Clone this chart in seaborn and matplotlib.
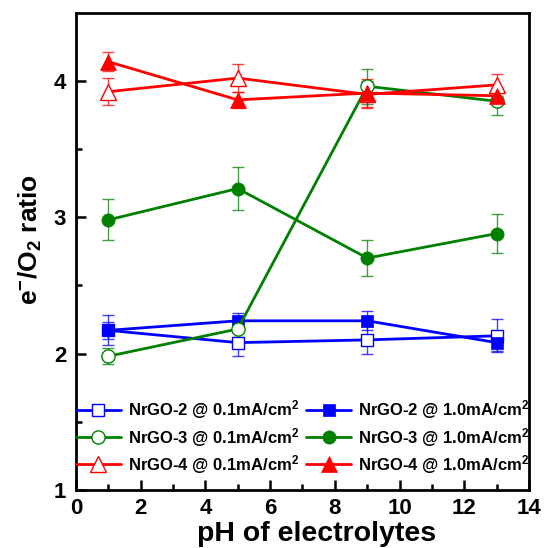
import numpy as np
import pandas as pd
import matplotlib
matplotlib.use('Agg')
import matplotlib.pyplot as plt
import seaborn as sns

sns.set_style('ticks')
plt.rcParams['font.family'] = ['Liberation Sans', 'DejaVu Sans']
plt.rcParams['font.weight'] = 'bold'
plt.rcParams['mathtext.fontset'] = 'custom'
plt.rcParams['mathtext.rm'] = 'Liberation Sans:bold'
plt.rcParams['mathtext.it'] = 'Liberation Sans:bold'
plt.rcParams['mathtext.bf'] = 'Liberation Sans:bold'
plt.rcParams['mathtext.default'] = 'rm'
for k in ['text.color', 'axes.labelcolor', 'xtick.color', 'ytick.color', 'axes.edgecolor']:
    plt.rcParams[k] = 'black'

ph = [1, 5, 9, 13]

# NrGO-2
g2_low = [2.17, 2.08, 2.10, 2.13]
g2_low_err = [0.06, 0.10, 0.10, 0.12]
g2_high = [2.17, 2.24, 2.24, 2.08]
g2_high_err = [0.11, 0.06, 0.07, 0.06]
# NrGO-3
g3_low = [1.98, 2.18, 3.96, 3.85]
g3_low_err = [0.06, 0.06, 0.13, 0.10]
g3_high = [2.98, 3.21, 2.70, 2.88]
g3_high_err = [0.15, 0.16, 0.13, 0.14]
# NrGO-4
g4_low = [3.92, 4.02, 3.90, 3.97]
g4_low_err = [0.10, 0.10, 0.10, 0.08]
g4_high = [4.14, 3.86, 3.91, 3.89]
g4_high_err = [0.07, 0.06, 0.10, 0.05]

labels = ['NrGO-2 @ 0.1mA/cm$^2$', 'NrGO-2 @ 1.0mA/cm$^2$',
          'NrGO-3 @ 0.1mA/cm$^2$', 'NrGO-3 @ 1.0mA/cm$^2$',
          'NrGO-4 @ 0.1mA/cm$^2$', 'NrGO-4 @ 1.0mA/cm$^2$']

series = [
    (g2_low, g2_low_err, '#0000ff', 's', False, 8.5),
    (g2_high, g2_high_err, '#0000ff', 's', True, 8.5),
    (g3_low, g3_low_err, '#008000', 'o', False, 9.5),
    (g3_high, g3_high_err, '#008000', 'o', True, 9.5),
    (g4_low, g4_low_err, '#ff0000', '^', False, 11),
    (g4_high, g4_high_err, '#ff0000', '^', True, 11),
]

fig, ax = plt.subplots(figsize=(5.46, 5.48), dpi=100)
fig.subplots_adjust(left=0.139, right=0.969, bottom=0.106, top=0.977)

for (vals, errs, col, mk, filled, ms), lab in zip(series, labels):
    ax.errorbar(ph, vals, yerr=errs, fmt='none', ecolor=col, elinewidth=1,
                capsize=4, capthick=1, alpha=0.75, zorder=2)
    sns.lineplot(x=ph, y=vals, ax=ax, color=col, linewidth=2, marker=mk,
                 markersize=ms, markerfacecolor=col if filled else 'white',
                 markeredgecolor=col, markeredgewidth=1 if not filled else 0.5,
                 label=lab, zorder=3)

h, l = ax.get_legend_handles_labels()
order = [0, 2, 4, 1, 3, 5]
ax.legend([h[i] for i in order], [l[i] for i in order], ncol=2, loc='lower left',
          bbox_to_anchor=(0, 0.03), frameon=False,
          handlelength=2.7, handletextpad=0.4, columnspacing=0.45,
          labelspacing=0.25, borderaxespad=0, borderpad=0,
          prop={'weight': 'bold', 'size': 12})

ax.set_xlim(0, 14)
ax.set_ylim(1, 4.5)
ax.set_xticks([0, 2, 4, 6, 8, 10, 12, 14])
ax.set_xticks(np.arange(1, 14, 2), minor=True)
ax.set_yticks([1, 2, 3, 4])
ax.set_yticks([1.5, 2.5, 3.5], minor=True)
ax.tick_params(which='both', direction='in', width=1.8, labelsize=16)
ax.tick_params(axis='y', pad=7)
ax.tick_params(axis='x', pad=6)
ax.tick_params(which='major', length=7)
ax.tick_params(which='minor', length=4)
for lbl in ax.get_xticklabels() + ax.get_yticklabels():
    lbl.set_fontweight('bold')
for sp in ax.spines.values():
    sp.set_visible(True)
    sp.set_linewidth(2)

ax.set_xlabel('pH of electrolytes', fontsize=20.5, fontweight='bold', labelpad=1.5)
ax.set_ylabel('e$^{-}$/O$_2$ ratio', fontsize=19, fontweight='bold', labelpad=7)
ax.xaxis.label.set_x(0.532)
ax.yaxis.label.set_y(0.525)

fig.savefig('out.png', dpi=100)
